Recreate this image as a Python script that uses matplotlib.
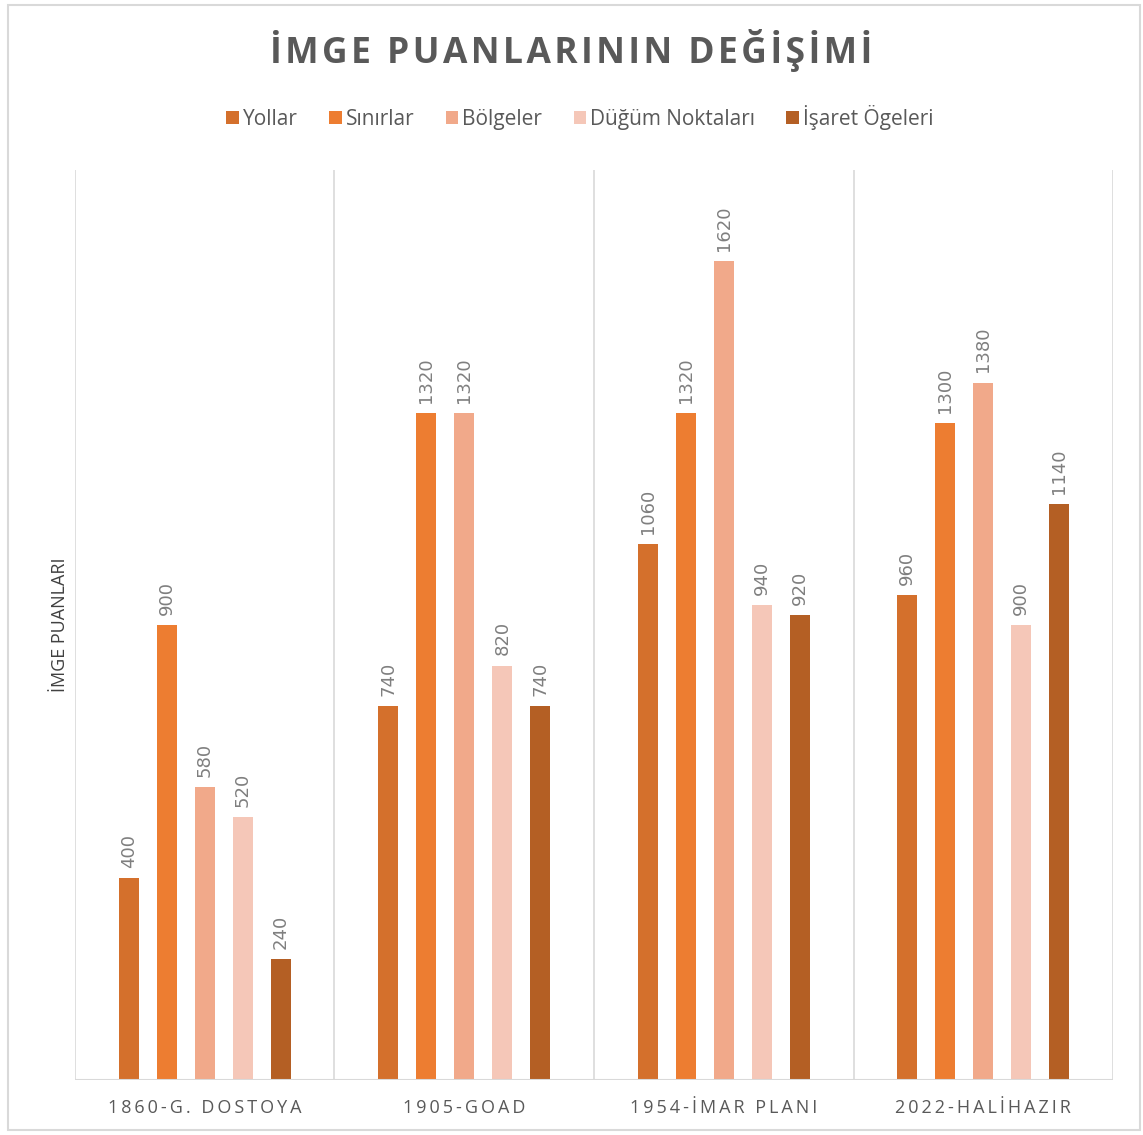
import numpy as np
import matplotlib
matplotlib.use("Agg")
import matplotlib.pyplot as plt
from matplotlib.patches import Rectangle

plt.rcParams['font.family'] = ['Open Sans', 'DejaVu Sans']

kategoriler = ["1860-G. DOSTOYA", "1905-GOAD", "1954-İMAR PLANI", "2022-HALİHAZIR"]
seriler = ["Yollar", "Sınırlar", "Bölgeler", "Düğüm Noktaları", "İşaret Ögeleri"]
yollar = [400, 740, 1060, 960]
sinirlar = [900, 1320, 1320, 1300]
bolgeler = [580, 1320, 1620, 1380]
dugum = [520, 820, 940, 900]
isaret = [240, 740, 920, 1140]
renkler = ["#D4702C", "#ED7D31", "#F1A98A", "#F5C7B8", "#B45F24"]

degerler = [yollar, sinirlar, bolgeler, dugum, isaret]
gri = "#595959"

def aralikli(s, ara="\u200a"):
    return ara.join(s)

fig = plt.figure(figsize=(11.43, 11.35), dpi=100)
ax = fig.add_axes([0.0656, 0.0485, 0.9082, 0.8015])

x = np.arange(len(kategoriler))
adim = 0.1465
gen = 0.077
for i, (ad, val, c) in enumerate(zip(seriler, degerler, renkler)):
    xs = x + (i - 2) * adim
    ax.bar(xs, val, width=gen, color=c, label=ad, zorder=3)
    for xi, v in zip(xs, val):
        ax.text(xi, v + 20, str(v), rotation=90, ha='center', va='bottom',
                fontsize=13, color="#7F7F7F", family=['DejaVu Sans'])

ax.set_xlim(-0.5, 3.5)
ax.set_ylim(0, 1800)
for sep in np.arange(-0.5, 4, 1):
    ax.axvline(sep, color="#D9D9D9", lw=1.2, zorder=1)
ax.axhline(0, color="#D9D9D9", lw=1.5, zorder=4)
for s in ax.spines.values():
    s.set_visible(False)
ax.set_yticks([])
ax.set_xticks(x)
ax.set_xticklabels([aralikli(k, "\u2009") for k in kategoriler], fontsize=13, color=gri)
ax.tick_params(axis='x', length=0, pad=14)
ax.set_ylabel("İMGE PUANLARI", fontsize=13, color="#404040", labelpad=4)

fig.text(0.5, 1 - 50 / 1135, aralikli("İMGE PUANLARININ DEĞİŞİMİ", "\u200a"), ha='center', va='center',
         fontsize=25.5, fontweight='bold', color=gri)

ax.legend(loc='center', bbox_to_anchor=((580 - 75) / 1038, (1080 - 117) / 910), ncol=5, frameon=False,
          fontsize=15, handlelength=0.6, handleheight=0.6, handletextpad=0.2, columnspacing=1.5,
          labelcolor=gri)

fig.patches.append(Rectangle((8 / 1143, 5 / 1135), 1132 / 1143, 1125 / 1135, transform=fig.transFigure,
                             fill=False, edgecolor="#D9D9D9", lw=1.5))

fig.savefig("out.png", dpi=100)
